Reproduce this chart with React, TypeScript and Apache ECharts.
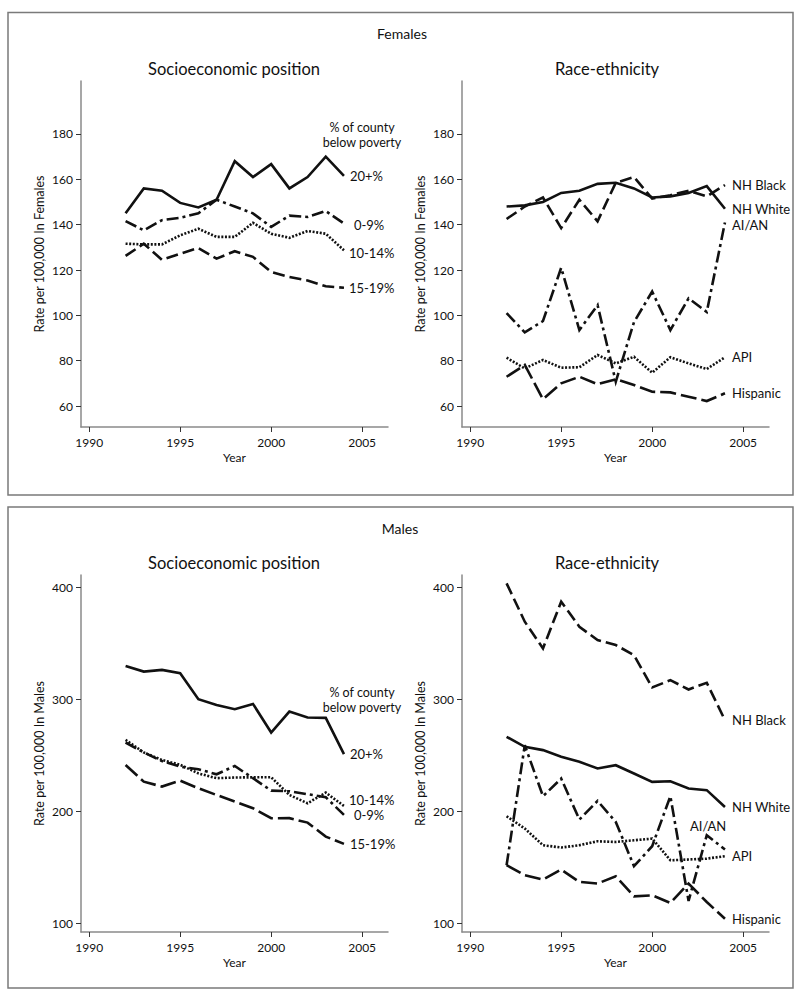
import React, { useEffect, useRef } from 'react';
import * as echarts from 'echarts';

const years: number[] = [1992, 1993, 1994, 1995, 1996, 1997, 1998, 1999, 2000, 2001, 2002, 2003, 2004];
const xTicks: number[] = [1990, 1995, 2000, 2005];
const femaleYTicks: number[] = [60, 80, 100, 120, 140, 160, 180];
const maleYTicks: number[] = [100, 200, 300, 400];

// Females, socioeconomic position (% of county below poverty)
const femSep20: number[] = [145, 156, 155, 149.6, 147.6, 151, 168, 161, 166.7, 156, 161, 170, 161.5];
const femSep0_9: number[] = [141.6, 137.5, 142, 143, 145, 151, 148, 145, 139, 144, 143.4, 146, 140.5];
const femSep10_14: number[] = [131.6, 131.3, 131.3, 135.3, 138.2, 134.6, 134.6, 140.8, 136, 134.2, 137.2, 136, 128.7];
const femSep15_19: number[] = [126.2, 131.6, 124.5, 127.2, 129.7, 125, 128.3, 125.8, 119.1, 116.9, 115.4, 112.8, 112.2];

// Females, race-ethnicity
const femBlack: number[] = [142.5, 148, 152, 138.5, 151, 141.5, 158.5, 161, 151.5, 153, 155, 152.5, 157.5];
const femWhite: number[] = [148, 148.5, 150, 154, 155, 158, 158.5, 156, 152, 152.5, 154, 157, 147];
const femAian: number[] = [101, 92.5, 97.5, 121, 93.5, 104.5, 70.7, 97, 110.5, 93.5, 107.5, 101.5, 141];
const femApi: number[] = [81.3, 76.6, 80.3, 76.9, 77.1, 82.5, 78.8, 81.7, 74.7, 81.5, 78.8, 76.3, 81.5];
const femHisp: number[] = [72.9, 78.1, 63, 70, 72.9, 69.6, 71.8, 69.3, 66.3, 66, 64.1, 62.2, 65.6];

// Males, socioeconomic position
const maleSep20: number[] = [330, 325, 326.5, 323.5, 300.3, 295.2, 291.4, 296.1, 270.5, 289.3, 284, 283.6, 251.2];
const maleSep0_9: number[] = [261.6, 252.7, 245, 240, 237.7, 233.2, 240.6, 229.7, 218.6, 218, 215.4, 212.7, 196.9];
const maleSep10_14: number[] = [264, 252.7, 246, 241.7, 234, 229.7, 230.3, 230.5, 230.6, 214.7, 207.3, 216.8, 204.9];
const maleSep15_19: number[] = [241.5, 226.6, 222.2, 227.5, 220.7, 214.7, 208.8, 202.9, 193.9, 194, 190, 177.5, 171];

// Males, race-ethnicity
const maleBlack: number[] = [403.9, 369.6, 345.7, 387.5, 365.1, 353.2, 348.7, 339.8, 310.8, 317.4, 309, 315, 281.6];
const maleWhite: number[] = [266.7, 257.7, 254.8, 248.8, 244.3, 238.4, 241.3, 233.9, 226.4, 227, 220.5, 219, 204];
const maleAian: number[] = [151.9, 259.2, 213.6, 229.4, 192.7, 209.4, 190.6, 151, 168.9, 213.6, 120, 178.7, 165.9];
const maleApi: number[] = [195.7, 184.7, 169.8, 167.7, 169.8, 173.3, 172.7, 174.2, 175.7, 156.3, 157, 157.8, 160];
const maleHisp: number[] = [151.9, 142.9, 139, 148, 137, 135.5, 142, 124.1, 125, 118.2, 135.5, 119, 104.1];

const FONT = 'Lato';
const AXIS_GRAY = '#8a8a8a';
const INK = '#111';

const SOLID: any = 'solid';
const DASH: any = [12, 5];
const LONGDASH: any = [16, 5];
const DOT: any = [2, 1.6];
const DASHDOT: any = [12, 4, 3, 4];

function pairs(vals: number[]) {
  return years.map((y, i) => [y, vals[i]]);
}

function line(name: string, vals: number[], idx: number, dash: any, offset: number[]) {
  return {
    type: 'line',
    name,
    xAxisIndex: idx,
    yAxisIndex: idx,
    data: pairs(vals),
    symbol: 'none',
    smooth: false,
    lineStyle: { color: INK, width: 2.6, type: dash, cap: 'butt', join: 'miter' },
    emphasis: { disabled: true },
    endLabel: {
      show: true,
      formatter: name,
      distance: 5,
      offset,
      color: INK,
      fontFamily: FONT,
      fontSize: 13,
    },
  };
}

export default function App() {
  const ref = useRef<HTMLDivElement>(null);
  useEffect(() => {
    if (!ref.current) return;
    const chart = echarts.init(ref.current, null, { renderer: 'svg' });

    const grids = [
      { left: 81, top: 81, width: 307, height: 346 },
      { left: 462, top: 81, width: 307, height: 346 },
      { left: 81, top: 575, width: 307, height: 357 },
      { left: 462, top: 575, width: 307, height: 357 },
    ];

    const xAxis = grids.map((_, i) => ({
      type: 'value',
      gridIndex: i,
      min: 1989.55,
      max: 2006.42,
      name: 'Year',
      nameLocation: 'middle',
      nameGap: 24,
      nameTextStyle: { fontFamily: FONT, fontSize: 12, color: INK },
      splitLine: { show: false },
      axisLine: { show: true, onZero: false, lineStyle: { color: AXIS_GRAY, width: 1.5 } },
      axisTick: { show: true, length: 5, customValues: xTicks, lineStyle: { color: '#333', width: 1 } },
      axisLabel: {
        customValues: xTicks,
        margin: 9,
        formatter: (v: number) => String(v),
        fontFamily: FONT,
        fontSize: 12,
        color: INK,
      },
    }));

    const yAxis = grids.map((_, i) => {
      const female = i < 2;
      const ticks = female ? femaleYTicks : maleYTicks;
      return {
        type: 'value',
        gridIndex: i,
        min: female ? 50.74 : 92.2,
        max: female ? 203.38 : 411.35,
        name: female ? 'Rate per 100,000 In Females' : 'Rate per 100,000 In Males',
        nameLocation: 'middle',
        nameGap: 35,
        nameTextStyle: { fontFamily: FONT, fontSize: 12.5, color: INK },
        splitLine: { show: false },
        axisLine: { show: true, onZero: false, lineStyle: { color: AXIS_GRAY, width: 1.5 } },
        axisTick: { show: true, length: 5, customValues: ticks, lineStyle: { color: '#333', width: 1 } },
        axisLabel: {
          customValues: ticks,
          margin: 8,
          formatter: (v: number) => String(v),
          fontFamily: FONT,
          fontSize: 12,
          color: INK,
        },
      };
    });

    const series = [
      line('20+%', femSep20, 0, SOLID, [1, 0]),
      line('0-9%', femSep0_9, 0, DASHDOT, [5, 1]),
      line('10-14%', femSep10_14, 0, DOT, [0, 3]),
      line('15-19%', femSep15_19, 0, DASH, [0, 0]),

      line('NH Black', femBlack, 1, DASH, [2, 0]),
      line('NH White', femWhite, 1, SOLID, [2, 0]),
      line('AI/AN', femAian, 1, DASHDOT, [2, 3]),
      line('API', femApi, 1, DOT, [2, 0]),
      line('Hispanic', femHisp, 1, LONGDASH, [2, 0]),

      line('20+%', maleSep20, 2, SOLID, [1, 0]),
      line('0-9%', maleSep0_9, 2, DASHDOT, [5, 0]),
      line('10-14%', maleSep10_14, 2, DOT, [0, -6]),
      line('15-19%', maleSep15_19, 2, LONGDASH, [1, 0]),

      line('NH Black', maleBlack, 3, DASH, [2, 0]),
      line('NH White', maleWhite, 3, SOLID, [2, 0]),
      line('AI/AN', maleAian, 3, DASHDOT, [-40, -24]),
      line('API', maleApi, 3, DOT, [2, 0]),
      line('Hispanic', maleHisp, 3, LONGDASH, [2, 0]),
    ];

    const txt = (text: string, x: number, y: number, size: number) => ({
      type: 'text',
      x,
      y,
      silent: true,
      style: {
        text,
        fontFamily: FONT,
        fontSize: size,
        fill: INK,
        align: 'center',
        verticalAlign: 'middle',
      },
    });

    const graphic = [
      {
        type: 'rect',
        silent: true,
        shape: { x: 8, y: 12.5, width: 785, height: 482.5 },
        style: { fill: 'none', stroke: '#7a7a7a', lineWidth: 1.5 },
      },
      {
        type: 'rect',
        silent: true,
        shape: { x: 8, y: 507, width: 785, height: 481 },
        style: { fill: 'none', stroke: '#7a7a7a', lineWidth: 1.5 },
      },
      txt('Females', 402, 33, 14),
      txt('Socioeconomic position', 234, 69, 16.5),
      txt('Race-ethnicity', 607, 69, 16.5),
      txt('% of county', 362, 127, 12.5),
      txt('below poverty', 362, 142, 12.5),
      txt('Males', 400, 528, 14),
      txt('Socioeconomic position', 234, 563, 16.5),
      txt('Race-ethnicity', 607, 563, 16.5),
      txt('% of county', 362, 692, 12.5),
      txt('below poverty', 362, 707, 12.5),
    ];

    chart.setOption({
      animation: false,
      backgroundColor: '#fff',
      textStyle: { fontFamily: FONT },
      grid: grids,
      xAxis,
      yAxis,
      series,
      graphic,
    } as any);

    return () => chart.dispose();
  }, []);

  return (
    <div
      ref={ref}
      style={{ position: 'fixed', left: 0, top: 0, width: 800, height: 998, background: '#fff' }}
    />
  );
}
